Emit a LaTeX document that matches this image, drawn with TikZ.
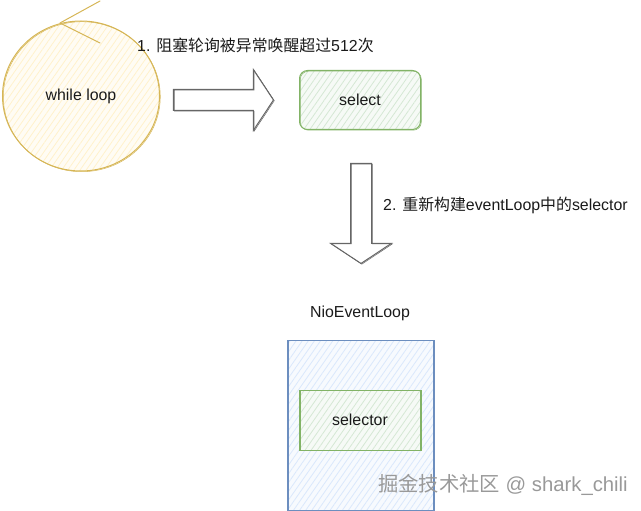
\documentclass[tikz,border=0pt]{standalone}
\usepackage{fontspec}
\setmainfont{Liberation Sans}
\newfontfamily\cjk{Noto Sans CJK SC}
\usetikzlibrary{shapes.geometric,shapes.arrows,patterns.meta}
\definecolor{ystroke}{HTML}{D6B656}
\definecolor{yfill}{HTML}{FFF2CC}
\definecolor{gstroke}{HTML}{82B366}
\definecolor{gfill}{HTML}{D5E8D4}
\definecolor{bstroke}{HTML}{6C8EBF}
\definecolor{bfill}{HTML}{DAE8FC}
\definecolor{astroke}{HTML}{666666}
\definecolor{txt}{HTML}{1A1A1A}
\tikzset{
  sketch/.style 2 args={draw=#1, line width=1pt,
    preaction={fill=#2!22!white},
    pattern={Lines[angle=55,distance=5pt,line width=0.8pt]}, pattern color=#2,
    postaction={draw=#1, line width=0.5pt, transform canvas={shift={(0.8pt,-0.7pt)}}}},
  lbl/.style={text=txt, font=\fontsize{15.9}{18}\selectfont, inner sep=0pt},
  blockarrow/.style={single arrow, draw=astroke, line width=1pt, fill=white,
    minimum height=100pt, minimum width=60pt, inner xsep=0pt, inner ysep=10pt,
    single arrow head extend=20pt, single arrow tip angle=113,
    postaction={draw=astroke, line width=0.5pt, transform canvas={shift={(0.8pt,-0.7pt)}}}},
}
\begin{document}
\begin{tikzpicture}[x=1pt,y=-1pt]
\useasboundingbox (0,0) rectangle (641,511);
% while loop
\node[ellipse, sketch={ystroke}{yfill}, minimum width=157pt, minimum height=150pt, lbl] (loop) at (81,96) {while loop};
\draw[ystroke, line width=1pt, line cap=round] (60,23) -- (100,1) (60,23) -- (100,43);
% label 1
\node[lbl, anchor=west] (t1) at (137,45) {1. {\cjk 阻塞轮询被异常唤醒超过}512{\cjk 次}};
% select
\node[rectangle, rounded corners=8pt, sketch={gstroke}{gfill}, minimum width=121pt, minimum height=59pt, lbl] (sel) at (360,100) {select};
% right block arrow
\node[blockarrow] (arr1) at (220,100) {};
% down block arrow
\node[blockarrow, rotate=-90] (arr2) at (361,210) {};
\node[lbl, anchor=west] (t2) at (383,205) {2. {\cjk 重新构建}eventLoop{\cjk 中的}selector};
% NioEventLoop
\node[lbl] (nlab) at (360,313) {NioEventLoop};
\node[rectangle, sketch={bstroke}{bfill}, minimum width=146pt, minimum height=170pt] (nel) at (360,425) {};
\node[rectangle, sketch={gstroke}{gfill}, minimum width=121pt, minimum height=60pt, lbl] (sl) at (360,420) {selector};
% watermark
\node[anchor=west, inner sep=0pt, text=black!40, font=\fontsize{20.3}{23}\selectfont] (wm) at (378,485) {{\cjk 掘金技术社区} @ shark\_chili};
\end{tikzpicture}
\end{document}
